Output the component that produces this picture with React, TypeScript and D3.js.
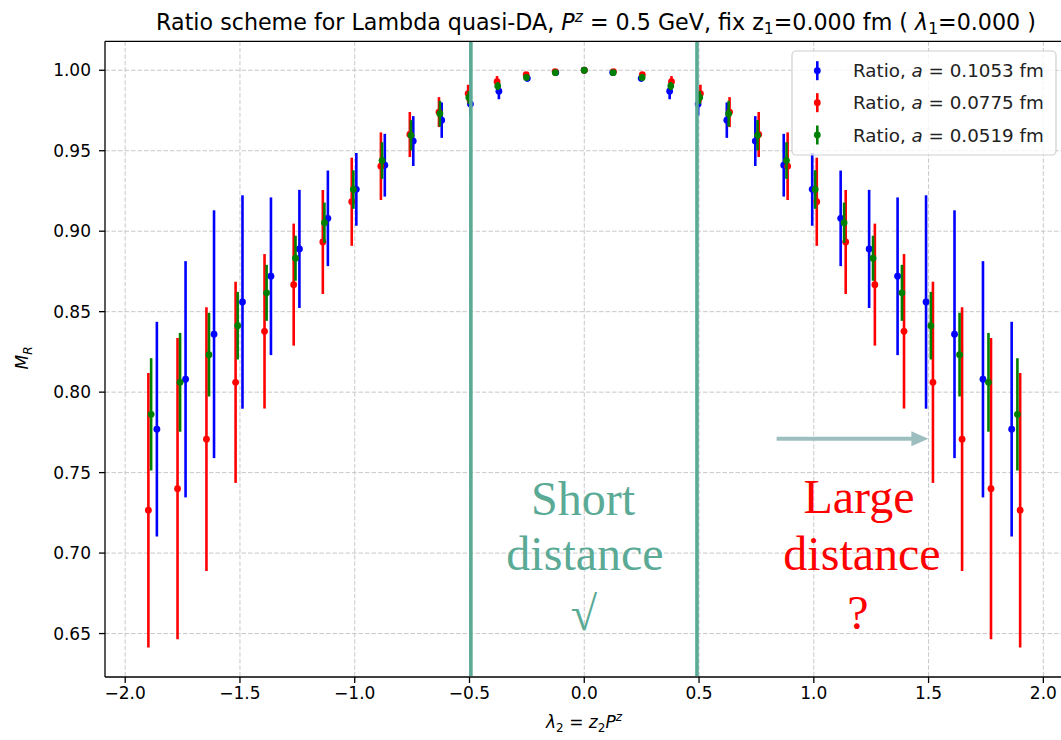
import React from 'react';
import * as d3 from 'd3';

const W = 1061;
const H = 740;

const xTicks = [-2.0, -1.5, -1.0, -0.5, 0.0, 0.5, 1.0, 1.5, 2.0];
const yTicks = [0.65, 0.7, 0.75, 0.8, 0.85, 0.9, 0.95, 1.0];

// a = 0.1053 fm
const blueX = [-1.862, -1.737, -1.613, -1.489, -1.365, -1.241, -1.117, -0.993, -0.869, -0.745, -0.621, -0.496, -0.372, -0.248, -0.124, 0,
  0.124, 0.248, 0.372, 0.496, 0.621, 0.745, 0.869, 0.993, 1.117, 1.241, 1.365, 1.489, 1.613, 1.737, 1.862];
const blueY = [0.777, 0.808, 0.836, 0.856, 0.872, 0.889, 0.908, 0.926, 0.941, 0.956, 0.969, 0.979, 0.987, 0.995, 0.9986, 1.0,
  0.9986, 0.995, 0.987, 0.979, 0.969, 0.956, 0.941, 0.926, 0.908, 0.889, 0.872, 0.856, 0.836, 0.808, 0.777];
const blueErr = [0.0667, 0.0734, 0.077, 0.0663, 0.049, 0.0367, 0.0297, 0.0226, 0.0195, 0.0155, 0.011, 0.007, 0.005, 0.002, 0.001, 0,
  0.001, 0.002, 0.005, 0.007, 0.011, 0.0155, 0.0195, 0.0226, 0.0297, 0.0367, 0.049, 0.0663, 0.077, 0.0734, 0.0667];

// a = 0.0775 fm
const redX = [-1.899, -1.772, -1.646, -1.519, -1.393, -1.266, -1.139, -1.013, -0.886, -0.76, -0.633, -0.506, -0.38, -0.253, -0.127, 0,
  0.127, 0.253, 0.38, 0.506, 0.633, 0.76, 0.886, 1.013, 1.139, 1.266, 1.393, 1.519, 1.646, 1.772, 1.899];
const redY = [0.7266, 0.74, 0.7708, 0.8061, 0.8378, 0.8668, 0.8933, 0.9183, 0.9404, 0.9601, 0.974, 0.9855, 0.9929, 0.9972, 0.9992, 1.0,
  0.9992, 0.9972, 0.9929, 0.9855, 0.974, 0.9601, 0.9404, 0.9183, 0.8933, 0.8668, 0.8378, 0.8061, 0.7708, 0.74, 0.7266];
const redErr = [0.0853, 0.0936, 0.082, 0.0625, 0.048, 0.0379, 0.0323, 0.0274, 0.021, 0.014, 0.0093, 0.0055, 0.0035, 0.0015, 0.001, 0,
  0.001, 0.0015, 0.0035, 0.0055, 0.0093, 0.014, 0.021, 0.0274, 0.0323, 0.0379, 0.048, 0.0625, 0.082, 0.0936, 0.0853];

// a = 0.0519 fm
const greenX = [-1.887, -1.761, -1.635, -1.51, -1.384, -1.258, -1.132, -1.006, -0.881, -0.755, -0.629, -0.503, -0.377, -0.252, -0.126, 0,
  0.126, 0.252, 0.377, 0.503, 0.629, 0.755, 0.881, 1.006, 1.132, 1.258, 1.384, 1.51, 1.635, 1.761, 1.887];
const greenY = [0.7862, 0.8061, 0.8233, 0.8413, 0.8617, 0.8832, 0.9053, 0.9259, 0.9439, 0.9596, 0.973, 0.9831, 0.9902, 0.9955, 0.9985, 1.0,
  0.9985, 0.9955, 0.9902, 0.9831, 0.973, 0.9596, 0.9439, 0.9259, 0.9053, 0.8832, 0.8617, 0.8413, 0.8233, 0.8061, 0.7862];
const greenErr = [0.0349, 0.0307, 0.026, 0.021, 0.0174, 0.014, 0.0125, 0.012, 0.0114, 0.0094, 0.008, 0.004, 0.0025, 0.0012, 0.0007, 0,
  0.0007, 0.0012, 0.0025, 0.004, 0.008, 0.0094, 0.0114, 0.012, 0.0125, 0.014, 0.0174, 0.021, 0.026, 0.0307, 0.0349];

const seriesLabels = ['0.1053', '0.0775', '0.0519'];
const seriesColors = ['#0000ff', '#ff0000', '#008000'];

// annotation data (lambda values)
const regionEdges = [-0.494, 0.491];
const arrowX = [0.838, 1.499];
const arrowY = 0.771;

const TEAL = '#5aaa96';
const FONT = 'DejaVu Sans, sans-serif';
const SERIF = 'Liberation Serif, Times New Roman, serif';

export default function App() {
  const x = d3.scaleLinear().domain([-2.088, 2.09]).range([105, 1064]);
  const y = d3.scaleLinear().domain([0.623, 1.018]).range([677, 41.3]);
  const [x0, x1] = x.range();
  const [yb, yt] = y.range();
  const fx = d3.format('.1f');
  const fy = d3.format('.2f');

  const series = [
    { xs: blueX, ys: blueY, es: blueErr },
    { xs: redX, ys: redY, es: redErr },
    { xs: greenX, ys: greenY, es: greenErr },
  ].map((s, i) => ({ ...s, color: seriesColors[i], label: seriesLabels[i] }));

  const legendRows = [70.7, 102.7, 135];

  return (
    <svg width={W} height={H} style={{ position: 'absolute', left: 0, top: 0, background: '#fff' }} xmlns="http://www.w3.org/2000/svg">
      <rect x={0} y={0} width={W} height={H} fill="#fff" />
      {/* grid */}
      <g stroke="#c8c8c8" strokeWidth={1} strokeDasharray="4.5,2">
        {xTicks.map((t) => (
          <line key={'gx' + t} x1={x(t)} x2={x(t)} y1={yt} y2={yb} />
        ))}
        {yTicks.map((t) => (
          <line key={'gy' + t} x1={x0} x2={x1} y1={y(t)} y2={y(t)} />
        ))}
      </g>

      {/* data */}
      {series.map((s, si) => (
        <g key={'s' + si}>
          {s.xs.map((xv, i) => (
            <line key={'e' + i} x1={x(xv)} x2={x(xv)} y1={y(s.ys[i] - s.es[i])} y2={y(s.ys[i] + s.es[i])}
              stroke={s.color} strokeWidth={2.6} />
          ))}
          {s.xs.map((xv, i) => (
            <circle key={'m' + i} cx={x(xv)} cy={y(s.ys[i])} r={3.4} fill={s.color} />
          ))}
        </g>
      ))}

      {/* teal region lines */}
      {regionEdges.map((v) => (
        <line key={'r' + v} x1={x(v)} x2={x(v)} y1={yt} y2={yb - 1} stroke={TEAL} strokeWidth={3.6} />
      ))}

      {/* spines */}
      <g stroke="#000" strokeWidth={1.3} fill="none">
        <line x1={x0} x2={x0} y1={yt} y2={yb} />
        <line x1={x0} x2={x1} y1={yb} y2={yb} />
        <line x1={x0} x2={x1} y1={yt} y2={yt} />
        <line x1={x1} x2={x1} y1={yt} y2={yb} />
      </g>

      {/* ticks */}
      <g stroke="#000" strokeWidth={1.3}>
        {xTicks.map((t) => (
          <line key={'tx' + t} x1={x(t)} x2={x(t)} y1={yb} y2={yb + 6} />
        ))}
        {yTicks.map((t) => (
          <line key={'ty' + t} x1={x0 - 6} x2={x0} y1={y(t)} y2={y(t)} />
        ))}
      </g>
      <g fontFamily={FONT} fontSize={17} fill="#000">
        {xTicks.map((t) => (
          <text key={'lx' + t} x={x(t)} y={699} textAnchor="middle">{fx(t)}</text>
        ))}
        {yTicks.map((t) => (
          <text key={'ly' + t} x={91} y={y(t) + 6.2} textAnchor="end">{fy(t)}</text>
        ))}
      </g>

      {/* axis labels */}
      <text x={584} y={728} textAnchor="middle" fontFamily={FONT} fontSize={17}>
        <tspan fontStyle="italic">λ</tspan>
        <tspan fontSize={12} dy={4}>2</tspan>
        <tspan dy={-4}> = </tspan>
        <tspan fontStyle="italic">z</tspan>
        <tspan fontSize={12} dy={4}>2</tspan>
        <tspan fontStyle="italic" dy={-4}>P</tspan>
        <tspan fontStyle="italic" fontSize={12} dy={-7}>z</tspan>
      </text>
      <text transform="translate(28,358) rotate(-90)" textAnchor="middle" fontFamily={FONT} fontSize={17}>
        <tspan fontStyle="italic">M</tspan>
        <tspan fontStyle="italic" fontSize={12} dy={4}>R</tspan>
      </text>

      {/* title */}
      <text x={596} y={30} textAnchor="middle" fontFamily={FONT} fontSize={22.2} fill="#000">
        <tspan>Ratio scheme for Lambda quasi-DA, </tspan>
        <tspan fontStyle="italic">P</tspan>
        <tspan fontStyle="italic" fontSize={15.5} dy={-8}>z</tspan>
        <tspan dy={8}> = 0.5 GeV, fix z</tspan>
        <tspan fontSize={15.5} dy={4}>1</tspan>
        <tspan dy={-4}>=0.000 fm ( </tspan>
        <tspan fontStyle="italic">λ</tspan>
        <tspan fontSize={15.5} dy={4}>1</tspan>
        <tspan dy={-4}>=0.000 )</tspan>
      </text>

      {/* legend */}
      <rect x={792} y={51} width={264} height={104} rx={4} fill="#fff" fillOpacity={0.8} stroke="#d0d0d0" strokeWidth={1.2} />
      {series.map((s, i) => (
        <g key={'lg' + i}>
          <line x1={817.3} x2={817.3} y1={legendRows[i] - 9.5} y2={legendRows[i] + 9.5} stroke={s.color} strokeWidth={2.6} />
          <circle cx={817.3} cy={legendRows[i]} r={3.4} fill={s.color} />
          <text x={853} y={legendRows[i] + 6.5} fontFamily={FONT} fontSize={18.3} fill="#222">
            <tspan>Ratio, </tspan>
            <tspan fontStyle="italic">a</tspan>
            <tspan> = {s.label} fm</tspan>
          </text>
        </g>
      ))}

      {/* arrow */}
      <line x1={x(arrowX[0])} x2={x(arrowX[1]) - 14} y1={y(arrowY)} y2={y(arrowY)} stroke="#9dbebe" strokeWidth={4} />
      <path d={`M${x(arrowX[1])},${y(arrowY)} L${x(arrowX[1]) - 17},${y(arrowY) - 7.5} L${x(arrowX[1]) - 17},${y(arrowY) + 7.5} Z`} fill="#9dbebe" />

      {/* annotations */}
      <g fontFamily={SERIF} fontSize={48} textAnchor="middle" fill={TEAL}>
        <text x={583} y={515}>Short</text>
        <text x={585} y={570}>distance</text>
        <text x={584} y={630}>√</text>
      </g>
      <g fontFamily={SERIF} fontSize={48} textAnchor="middle" fill="#ff0000">
        <text x={859} y={513}>Large</text>
        <text x={862} y={570}>distance</text>
        <text x={858} y={629}>?</text>
      </g>
    </svg>
  );
}
